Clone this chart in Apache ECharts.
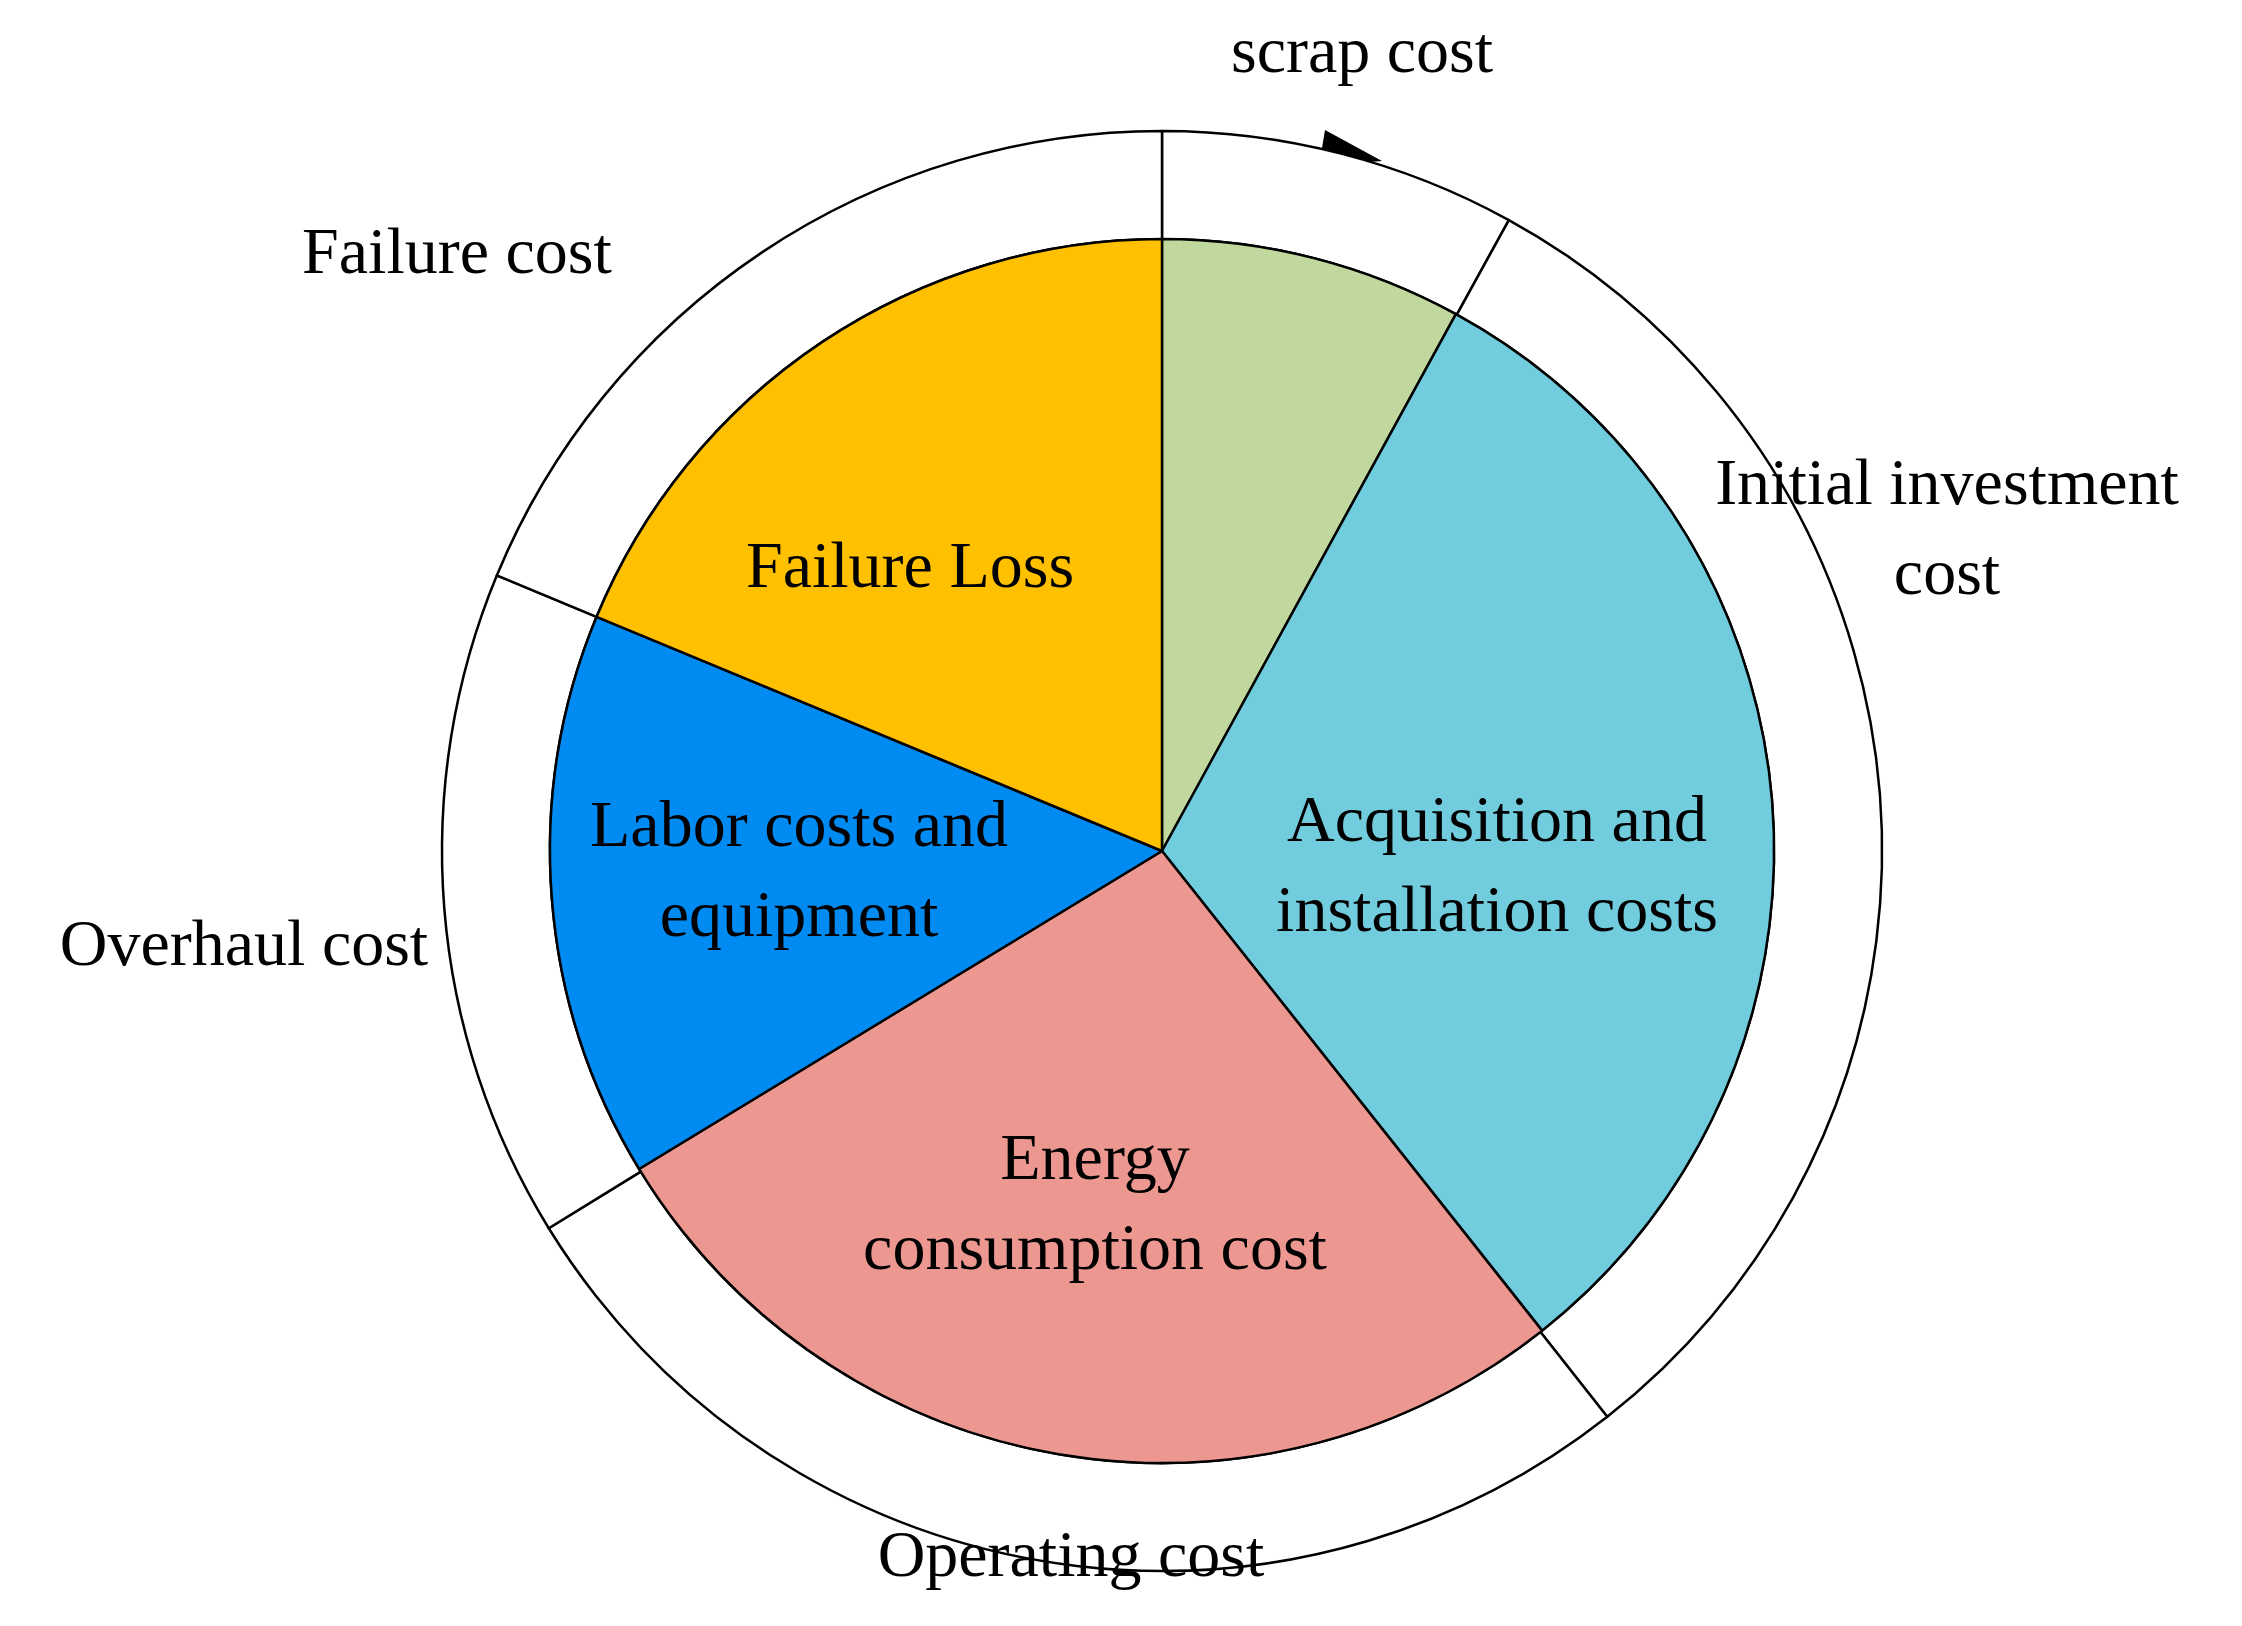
<!DOCTYPE html>
<html>
<head>
<meta charset="utf-8">
<script src="https://cdn.jsdelivr.net/npm/echarts@6/dist/echarts.min.js"></script>
<style>html,body{margin:0;padding:0;background:#fff}#main{width:2242px;height:1626px}</style>
</head>
<body>
<div id="main"></div>
<script>
// inner ring: cost items (degrees of the circle)
var innerNames = ['', 'Acquisition and\ninstallation costs', 'Energy\nconsumption cost', 'Labor costs and\nequipment', 'Failure Loss'];
var innerValues = [28.7, 112.9, 97.1, 53.8, 67.5];
var innerColors = ['#C0D89E', '#71CDDD', '#EC9891', '#008BF2', '#FFC000'];

// outer ring: cost categories
var outerNames = ['scrap cost', 'Initial investment\ncost', 'Operating cost', 'Overhaul cost', 'Failure cost'];
var outerValues = [28.8, 113.0, 96.6, 54.1, 67.5];

// label anchor points (layout only)
var outerLabelPos = [[1362, 55], [1947, 532], [1071, 1559], [244, 948], [457, 256]];
var innerLabelPos = [[1300, 400], [1497, 869], [1095, 1207], [799, 874], [910, 570]];

var font = 'Liberation Serif';
var chart = echarts.init(document.getElementById('main'));

var innerData = [];
for (var i = 0; i < innerValues.length; i++) {
    innerData.push({name: innerNames[i], value: innerValues[i], itemStyle: {color: innerColors[i]}});
}
var outerData = [];
for (var j = 0; j < outerValues.length; j++) {
    outerData.push({name: outerNames[j], value: outerValues[j]});
}

function placeAt(list) {
    return function (p) {
        var pt = list[p.dataIndex];
        return {x: pt[0], y: pt[1], align: 'center', verticalAlign: 'middle'};
    };
}

chart.setOption({
    backgroundColor: '#fff',
    animation: false,
    series: [
        {
            type: 'pie',
            center: [1162, 851],
            radius: [612, 720],
            startAngle: 90,
            clockwise: true,
            silent: true,
            itemStyle: {color: '#fff', borderColor: '#000', borderWidth: 2.5},
            label: {
                position: 'outside',
                fontFamily: font,
                fontSize: 66,
                color: '#000',
                lineHeight: 90,
                align: 'center',
                overflow: 'none'
            },
            labelLine: {show: false},
            labelLayout: placeAt(outerLabelPos),
            data: outerData
        },
        {
            type: 'pie',
            center: [1162, 851],
            radius: [0, 612],
            startAngle: 90,
            clockwise: true,
            silent: true,
            itemStyle: {borderColor: '#000', borderWidth: 2.5},
            label: {
                position: 'inside',
                fontFamily: font,
                fontSize: 66,
                color: '#000',
                lineHeight: 90,
                overflow: 'none'
            },
            labelLayout: placeAt(innerLabelPos),
            data: innerData
        }
    ],
    graphic: [{
        type: 'polygon',
        shape: {points: [[1325, 130], [1382, 161], [1319, 166]]},
        style: {fill: '#000'}
    }]
});
</script>
</body>
</html>
